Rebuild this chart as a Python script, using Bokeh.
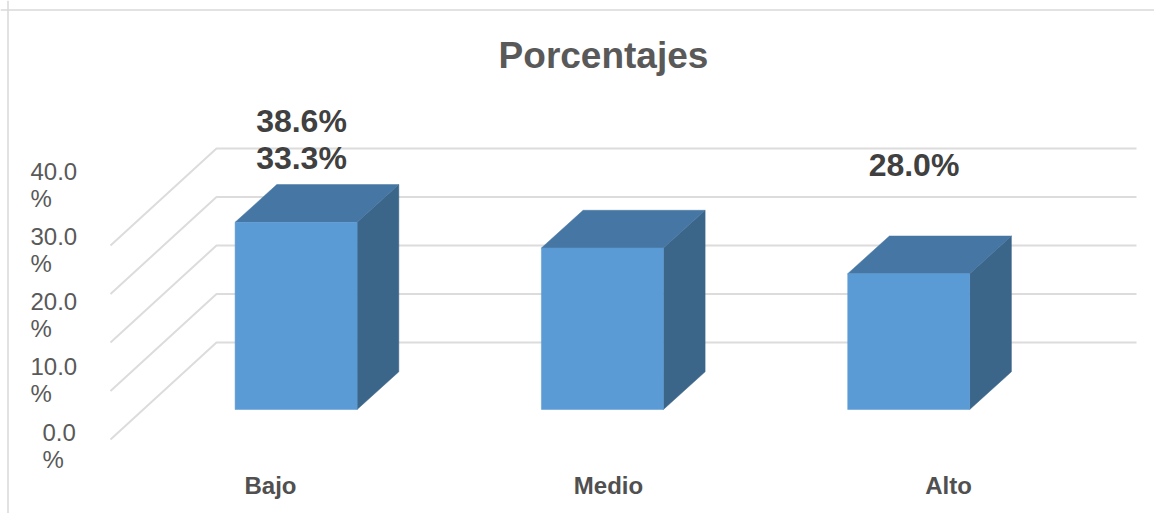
from bokeh.plotting import figure
from bokeh.models import Range1d, Span
from bokeh.core.properties import value
from bokeh.embed import file_html
from bokeh.resources import INLINE

categories = ["Bajo", "Medio", "Alto"]
percentages = [38.6, 33.3, 28.0]
y_ticks = [0, 10, 20, 30, 40]
y_tick_labels = ["0.0\n%", "10.0\n%", "20.0\n%", "30.0\n%", "40.0\n%"]
data_labels = ["38.6%", "33.3%", "28.0%"]
title_text = "Porcentajes"

W, H = 1154, 513
PX_X = 306.3      # pixels per category
PX_Y = 4.85       # pixels per percentage point
x0_page, y0_page = 295.6, 342.0   # category 0 centre, value 0 on back wall


def X(px):
    return (px - x0_page) / PX_X


def Y(py):
    return (y0_page - py) / PX_Y


p = figure(width=W, height=H, output_backend="svg", toolbar_location=None,
           x_range=Range1d(X(0), X(W)), y_range=Range1d(Y(H), Y(0)),
           min_border=0, outline_line_color=None, background_fill_color="white",
           border_fill_color="white")
p.axis.visible = False
p.grid.visible = False

BORDER = "#D9D9D9"
p.add_layout(Span(location=Y(9.5), dimension="width", line_color=BORDER, line_width=1.5))
p.add_layout(Span(location=X(7.5), dimension="height", line_color=BORDER, line_width=1.5))

# 3D geometry, in data units
half_bar = 61 / PX_X
bar_dx, bar_dy = 41.7 / PX_X, 37.7 / PX_Y
floor_dx, floor_dy = 106 / PX_X, 97 / PX_Y
wall_x, wall_right = X(216), X(1136)
bar_base = Y(409)

GRID = "#DCDCDC"
for t in y_ticks:
    p.line([wall_x - floor_dx, wall_x, wall_right], [t - floor_dy, t, t],
           line_color=GRID, line_width=2)

cx = list(range(len(categories)))
fronts_x, fronts_y, tops_x, tops_y, sides_x, sides_y = [], [], [], [], [], []
for c, v in zip(cx, percentages):
    l, r = c - half_bar, c + half_bar
    top = bar_base + v
    fronts_x.append([l, r, r, l])
    fronts_y.append([bar_base, bar_base, top, top])
    tops_x.append([l, r, r + bar_dx, l + bar_dx])
    tops_y.append([top, top, top + bar_dy, top + bar_dy])
    sides_x.append([r, r + bar_dx, r + bar_dx, r])
    sides_y.append([bar_base, bar_base + bar_dy, top + bar_dy, top])

p.patches(sides_x, sides_y, fill_color="#3B6589", line_color="#3B6589", line_width=0.5)
p.patches(tops_x, tops_y, fill_color="#4676A3", line_color="#4676A3", line_width=0.5)
p.patches(fronts_x, fronts_y, fill_color="#5B9BD5", line_color="#5B9BD5", line_width=0.5)

FONT = value("Liberation Sans")

# value-axis labels (offset from the gridlines as in the source picture)
tick_x = [X(42) if len(s) < 6 else X(30) for s in y_tick_labels]
tick_y = [Y(445) + t * (65.25 / 10) / PX_Y for t in y_ticks]
p.text(tick_x, tick_y, text=y_tick_labels, text_font=FONT, text_font_size="24px",
       text_color="#595959", text_align="left", text_baseline="middle",
       text_line_height=1.0)

# category labels
p.text([X(270), X(608), X(948)], [Y(485)] * 3, text=categories, text_font=FONT,
       text_font_size="24px", text_font_style="bold", text_color="#505050",
       text_align="center", text_baseline="middle")

# data labels
p.text([X(301), X(301), X(913.5)], [Y(120), Y(157), Y(164)], text=data_labels,
       text_font=FONT, text_font_size="32px", text_font_style="bold",
       text_color="#404040", text_align="center", text_baseline="middle")

# title
p.text([X(603)], [Y(55)], text=[title_text], text_font=FONT, text_font_size="37px",
       text_font_style="bold", text_color="#595959", text_align="center",
       text_baseline="middle")

open("out.html", "w").write(file_html(p, INLINE))
